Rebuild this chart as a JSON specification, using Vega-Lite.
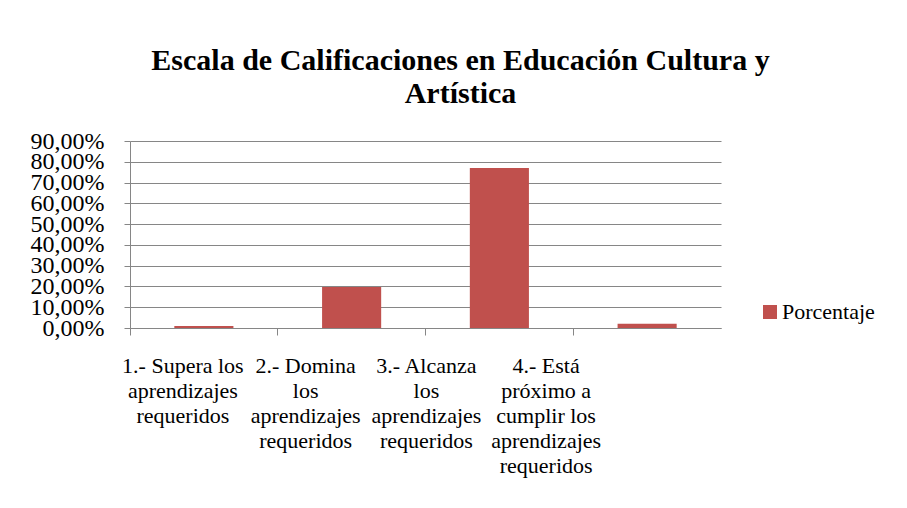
{
  "$schema": "https://vega.github.io/schema/vega-lite/v6.json",
  "autosize": {"type": "none"},
  "width": 591,
  "height": 187,
  "padding": {"left": 130, "top": 141, "right": 186, "bottom": 180},
  "background": "white",
  "config": {
    "font": "Liberation Serif, Times New Roman, serif",
    "view": {"stroke": null},
    "axis": {"domainColor": "#868686", "tickColor": "#868686", "gridColor": "#868686", "labelColor": "black", "labelFont": "Liberation Serif, Times New Roman, serif"},
    "legend": {"labelFont": "Liberation Serif, Times New Roman, serif"},
    "title": {"font": "Liberation Serif, Times New Roman, serif"}
  },
  "title": {
    "text": ["Escala de Calificaciones en Educación Cultura y", "Artística"],
    "font": "Liberation Serif, Times New Roman, serif",
    "fontSize": 30,
    "fontWeight": "bold",
    "lineHeight": 33,
    "anchor": "middle",
    "frame": "group",
    "dx": 35,
    "offset": 20,
    "color": "black"
  },
  "data": {
    "values": [
      {"nivel": "1.- Supera los aprendizajes requeridos", "serie": "Porcentaje", "porcentaje": 0.01},
      {"nivel": "2.- Domina los aprendizajes requeridos", "serie": "Porcentaje", "porcentaje": 0.197},
      {"nivel": "3.- Alcanza los aprendizajes requeridos", "serie": "Porcentaje", "porcentaje": 0.77},
      {"nivel": "4.- Está próximo a cumplir los aprendizajes requeridos", "serie": "Porcentaje", "porcentaje": 0.021}
    ]
  },
  "mark": {"type": "bar"},
  "encoding": {
    "x": {
      "field": "nivel",
      "type": "nominal",
      "sort": null,
      "scale": {"paddingInner": 0.6, "paddingOuter": 0.3},
      "axis": {
        "title": null,
        "labelAngle": 0,
        "bandPosition": -0.75,
        "tickSize": 7,
        "labelPadding": 20,
        "labelFontSize": 22,
        "labelLineHeight": 25,
        "labelLimit": 0,
        "labelOverlap": false,
        "labelExpr": "slice(datum.value,0,1)=='1' ? ['1.- Supera los','aprendizajes','requeridos'] : slice(datum.value,0,1)=='2' ? ['2.- Domina','los','aprendizajes','requeridos'] : slice(datum.value,0,1)=='3' ? ['3.- Alcanza','los','aprendizajes','requeridos'] : ['4.- Está','próximo a','cumplir los','aprendizajes','requeridos']",
        "labelOffset": {
          "condition": [
            {"test": "slice(datum.value,0,1)=='1'", "value": -21},
            {"test": "slice(datum.value,0,1)=='2'", "value": -46},
            {"test": "slice(datum.value,0,1)=='3'", "value": -73}
          ],
          "value": -101
        }
      }
    },
    "y": {
      "field": "porcentaje",
      "type": "quantitative",
      "scale": {"domain": [0, 0.9], "nice": false},
      "axis": {
        "title": null,
        "values": [0, 0.1, 0.2, 0.3, 0.4, 0.5, 0.6, 0.7, 0.8, 0.9],
        "labelExpr": "replace(format(datum.value, '.2%'), '.', ',')",
        "tickSize": 6,
        "labelPadding": 20,
        "labelFontSize": 24,
        "labelOverlap": false,
        "labelFlush": false,
        "grid": true
      }
    },
    "color": {
      "field": "serie",
      "type": "nominal",
      "scale": {"range": ["#C0504D"]},
      "legend": {
        "title": null,
        "orient": "none",
        "legendX": 629,
        "legendY": 160,
        "padding": 0,
        "symbolType": "square",
        "symbolSize": 196,
        "labelFontSize": 22,
        "labelFont": "Liberation Serif, Times New Roman, serif",
        "labelColor": "black",
        "labelOffset": 1
      }
    }
  }
}
